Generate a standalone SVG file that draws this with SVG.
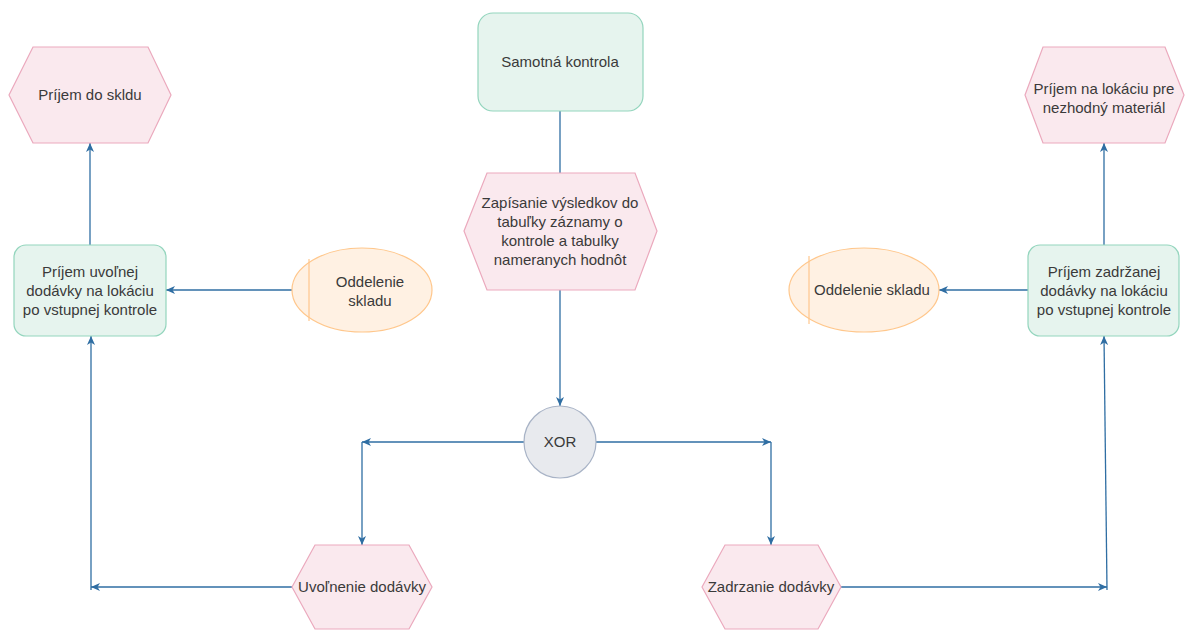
<svg xmlns="http://www.w3.org/2000/svg" width="1186" height="630" viewBox="0 0 1186 630">
  <defs>
    <marker id="arrow" markerUnits="userSpaceOnUse" markerWidth="10" markerHeight="8" refX="9" refY="4" orient="auto">
      <path d="M0,0 L9,4 L0,8 L2.5,4 Z" fill="#2f6ea3"/>
    </marker>
  </defs>
  <style>
    text { font-family: "Liberation Sans", Arial, sans-serif; font-size: 15px; fill: #3a3a3a; text-anchor: middle; }
    .hex { fill: #fae9ee; stroke: #eba9bd; stroke-width: 1.2; }
    .fn { fill: #e6f4ee; stroke: #93d5bd; stroke-width: 1.2; }
    .org { fill: #fff1e3; stroke: #ffc78c; stroke-width: 1.2; }
    .xor { fill: #e8eaee; stroke: #a8b3c6; stroke-width: 1.2; }
    .edge { fill: none; stroke: #2f6ea3; stroke-width: 1.3; }
    .arr { marker-end: url(#arrow); }
  </style>
  <rect width="1186" height="630" fill="#ffffff"/>

  <!-- connectors -->
  <g id="connectors">
    <line class="edge" x1="560" y1="111" x2="560" y2="173"/>
    <line class="edge arr" x1="560" y1="290" x2="560" y2="406"/>
    <line class="edge arr" x1="524" y1="442" x2="362" y2="442"/>
    <line class="edge arr" x1="362" y1="442" x2="362" y2="545"/>
    <line class="edge arr" x1="596" y1="442" x2="771" y2="442"/>
    <line class="edge arr" x1="771" y1="442" x2="771" y2="545"/>
    <line class="edge arr" x1="292" y1="587" x2="91" y2="587"/>
    <line class="edge arr" x1="91" y1="590" x2="91" y2="336"/>
    <line class="edge arr" x1="90" y1="245" x2="90" y2="143"/>
    <line class="edge arr" x1="292" y1="290" x2="166" y2="290"/>
    <line class="edge arr" x1="841" y1="587" x2="1107" y2="587"/>
    <line class="edge arr" x1="1107" y1="590" x2="1104" y2="336"/>
    <line class="edge arr" x1="1028" y1="290" x2="939" y2="290"/>
    <line class="edge arr" x1="1104" y1="245" x2="1104" y2="143"/>
  </g>

  <!-- top centre function -->
  <g id="samotna-kontrola">
    <rect class="fn" x="478" y="13" width="165" height="98" rx="15"/>
    <text x="560" y="67">Samotná kontrola</text>
  </g>

  <g id="zapisanie">
    <polygon class="hex" points="464,231 487,173 635,173 657,231 635,290 487,290"/>
    <text x="560" y="208">Zapísanie výsledkov do</text>
    <text x="560" y="227">tabuľky záznamy o</text>
    <text x="560" y="246">kontrole a tabulky</text>
    <text x="560" y="265">nameranych hodnôt</text>
  </g>

  <g id="xor">
    <circle class="xor" cx="560" cy="442" r="36"/>
    <text x="560" y="447">XOR</text>
  </g>

  <g id="uvolnenie">
    <polygon class="hex" points="292,587 315,545 409,545 432,587 409,629 315,629"/>
    <text x="362" y="592">Uvoľnenie dodávky</text>
  </g>

  <g id="zadrzanie">
    <polygon class="hex" points="702,587 725,545 818,545 841,587 818,629 725,629"/>
    <text x="771" y="592">Zadrzanie dodávky</text>
  </g>

  <!-- left branch -->
  <g id="prijem-uvolnenej">
    <rect class="fn" x="14" y="245" width="152" height="91" rx="12"/>
    <text x="90" y="277">Príjem uvoľnej</text>
    <text x="90" y="296">dodávky na lokáciu</text>
    <text x="90" y="314.5">po vstupnej kontrole</text>
  </g>

  <g id="oddelenie-skladu-left">
    <ellipse class="org" cx="362" cy="290" rx="70" ry="42"/>
    <line x1="309" y1="259" x2="309" y2="321" stroke="#ffc78c" stroke-width="1.2"/>
    <text x="370" y="287">Oddelenie</text>
    <text x="370" y="305.5">skladu</text>
  </g>

  <g id="prijem-do-skladu">
    <polygon class="hex" points="9,95 33,47 148,47 171,95 148,143 33,143"/>
    <text x="90" y="100">Príjem do skldu</text>
  </g>

  <!-- right branch -->
  <g id="prijem-zadrzanej">
    <rect class="fn" x="1028" y="245" width="151" height="91" rx="12"/>
    <text x="1104" y="277">Príjem zadržanej</text>
    <text x="1104" y="296">dodávky na lokáciu</text>
    <text x="1104" y="314.5">po vstupnej kontrole</text>
  </g>

  <g id="oddelenie-skladu-right">
    <ellipse class="org" cx="864" cy="290" rx="75" ry="42"/>
    <line x1="809" y1="256" x2="809" y2="324" stroke="#ffc78c" stroke-width="1.2"/>
    <text x="872" y="295">Oddelenie skladu</text>
  </g>

  <g id="prijem-nezhodny">
    <polygon class="hex" points="1025,95 1043,47 1165,47 1184,95 1165,143 1043,143"/>
    <text x="1104" y="94">Príjem na lokáciu pre</text>
    <text x="1104" y="112.5">nezhodný materiál</text>
  </g>
</svg>
